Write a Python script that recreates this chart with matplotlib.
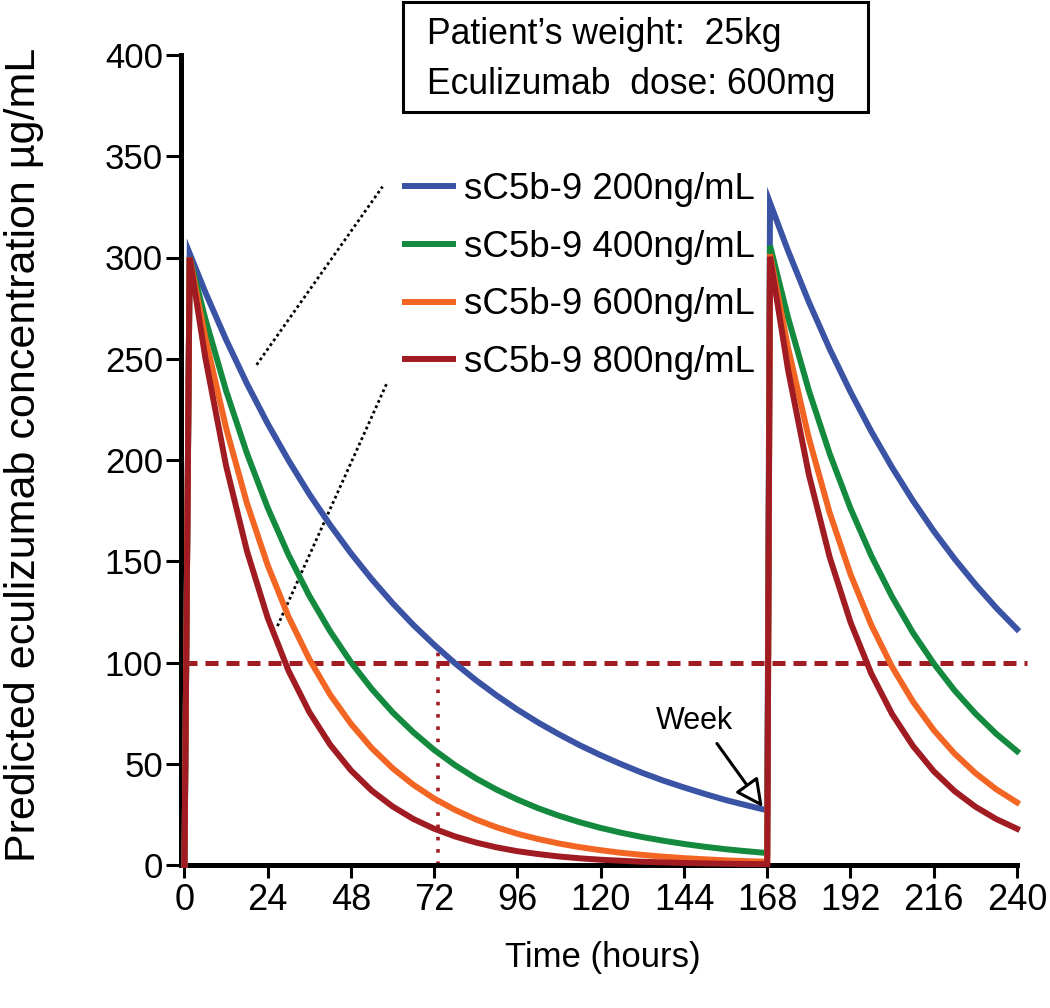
import matplotlib
matplotlib.use("Agg")
import matplotlib.pyplot as plt
from matplotlib.patches import Rectangle

# time points (hours)
hours = [0, 1.5, 6, 12, 18, 24, 30, 36, 42, 48, 54, 60, 66, 72, 78, 84, 90, 96,
         102, 108, 114, 120, 126, 132, 138, 144, 150, 156, 162, 168,
         168.8, 174, 180, 186, 192, 198, 204, 210, 216, 222, 228, 234, 240]

# predicted concentration (ug/mL) for each sC5b-9 level
conc_200 = [0, 302, 282.9, 259.4, 237.7, 217.9, 199.8, 183.1, 167.9, 153.9, 141.1, 129.3,
            118.5, 108.7, 99.6, 91.3, 83.7, 76.7, 70.3, 64.5, 59.1, 54.2, 49.7, 45.5, 41.7,
            38.3, 35.1, 32.1, 29.5, 27.0,
            327, 303.3, 278.0, 254.8, 233.6, 214.1, 196.3, 179.9, 164.9, 151.2, 138.6, 127.0, 116.5]
conc_400 = [0, 300, 269.8, 234.2, 203.3, 176.4, 153.1, 132.9, 115.4, 100.1, 86.9, 75.4,
            65.5, 56.8, 49.3, 42.8, 37.2, 32.3, 28.0, 24.3, 21.1, 18.3, 15.9, 13.8, 12.0,
            10.4, 9.0, 7.8, 6.8, 5.9,
            305.9, 270.3, 234.3, 203.1, 176.1, 152.7, 132.4, 114.7, 99.5, 86.2, 74.8, 64.8, 56.2]
conc_600 = [0, 300, 260.5, 215.8, 178.7, 148.0, 122.6, 101.6, 84.1, 69.7, 57.7, 47.8,
            39.6, 32.8, 27.2, 22.5, 18.6, 15.4, 12.8, 10.6, 8.8, 7.3, 6.0, 5.0, 4.1,
            3.4, 2.8, 2.3, 1.9, 1.6,
            301.6, 255.4, 210.8, 173.9, 143.6, 118.5, 97.8, 80.7, 66.6, 55.0, 45.4, 37.4, 30.9]
conc_800 = [0, 300, 250.6, 197.1, 155.1, 122.0, 95.9, 75.5, 59.4, 46.7, 36.7, 28.9,
            22.7, 17.9, 14.1, 11.1, 8.7, 6.8, 5.4, 4.2, 3.3, 2.6, 2.1, 1.6, 1.3,
            1.0, 0.8, 0.6, 0.5, 0.4,
            300.4, 244.5, 192.8, 152.0, 119.9, 94.5, 74.5, 58.8, 46.3, 36.5, 28.8, 22.7, 17.9]

labels = ["sC5b-9 200ng/mL", "sC5b-9 400ng/mL", "sC5b-9 600ng/mL", "sC5b-9 800ng/mL"]
colors = ["#3a53a4", "#148a3e", "#f26522", "#a01c22"]

threshold = 100
week_hour = 73
xticks = [0, 24, 48, 72, 96, 120, 144, 168, 192, 216, 240]
yticks = [0, 50, 100, 150, 200, 250, 300, 350, 400]

font = ["Liberation Sans", "DejaVu Sans"]

W, H = 1050, 1008
fig = plt.figure(figsize=(W / 100, H / 100), dpi=100)
ax = fig.add_axes([181 / W, 1 - 865 / H, (1017 - 181) / W, (865 - 55) / H])

for vals, lab, c in zip([conc_200, conc_400, conc_600, conc_800], labels, colors):
    ax.plot(hours, vals, color=c, lw=4.3, label=lab, zorder=3, clip_on=False,
            solid_joinstyle="miter")

# 100 ug/mL threshold and 72h marker
ax.plot([0, 243], [threshold, threshold], color="#a01c22", lw=3.6,
        dashes=(2.6, 1.6), clip_on=False, zorder=2)
ax.plot([week_hour, week_hour], [0, 108], color="#a01c22", lw=2.6,
        dashes=(1, 2.4), zorder=2)

# dotted connectors from the legend
ax.plot([20.8, 57.1], [247, 335], color="black", lw=2, dashes=(1, 1.1), zorder=2)
ax.plot([26.8, 58.5], [118, 238.5], color="black", lw=2, dashes=(1, 1.1), zorder=2)

# week arrow
ax.annotate("", xy=(166.7, 28.6), xytext=(153.5, 60),
            arrowprops=dict(arrowstyle="-|>", fc="white", ec="black", lw=2.2,
                            mutation_scale=42, shrinkA=0, shrinkB=0), zorder=4)
ax.text(147.1, 71, "Week", ha="center", va="center", fontsize=22, family=font)

ax.set_xlim(-1, 240)
ax.set_ylim(0, 400)
ax.set_xticks(xticks)
ax.set_yticks(yticks)
for s in ["top", "right"]:
    ax.spines[s].set_visible(False)
for s in ["left", "bottom"]:
    ax.spines[s].set_linewidth(3.6)
ax.tick_params(axis="y", length=11, width=2.2, pad=2, labelsize=25)
ax.tick_params(axis="x", length=9, width=2.2, pad=4, labelsize=26)
for t in ax.get_yticklabels() + ax.get_xticklabels():
    t.set_family(font)

fig.text(24 / W, 1 - 455 / H, "Predicted eculizumab concentration µg/mL", rotation=90,
         ha="center", va="center", fontsize=31, family=font)
fig.text(603 / W, 1 - 958 / H, "Time (hours)", ha="center", va="center",
         fontsize=25, family=font)

leg = ax.legend(loc="upper left", bbox_to_anchor=(405 / W, 1 - 172 / H),
                bbox_transform=fig.transFigure, frameon=False,
                handlelength=1.3, handletextpad=0.3, labelspacing=0.62,
                borderpad=0, borderaxespad=0, prop={"family": font, "size": 26.4})

# info box
fig.patches.append(Rectangle((403 / W, 1 - 112 / H), (868 - 403) / W, 110 / H,
                             transform=fig.transFigure, fill=False, ec="black", lw=2.2))
fig.text(427 / W, 1 - 44 / H, "Patient’s weight:  25kg", va="baseline",
         fontsize=25.6, family=font)
fig.text(427 / W, 1 - 94 / H, "Eculizumab  dose: 600mg", va="baseline",
         fontsize=25.6, family=font)

fig.savefig("out.png", dpi=100)
